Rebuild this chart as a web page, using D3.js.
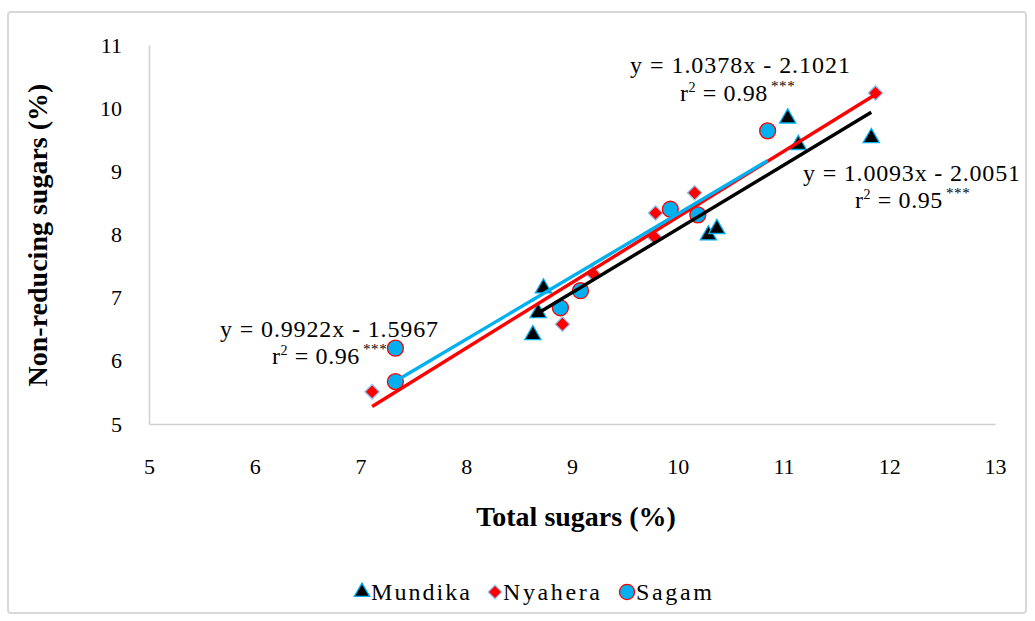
<!DOCTYPE html>
<html><head><meta charset="utf-8">
<script src="https://cdn.jsdelivr.net/npm/d3@7"></script>
<style>html,body{margin:0;padding:0;background:#fff}svg{display:block}text{font-family:"Liberation Serif","Times New Roman",serif;fill:#000}</style>
</head><body>
<script>
// ---- data ----
const seriesNames = ["Mundika", "Nyahera", "Sagam"];
const mundikaX = [8.63, 8.68, 8.73, 10.29, 10.37, 11.04, 11.14, 11.83];
const mundikaY = [6.41, 6.76, 7.15, 7.99, 8.09, 9.84, 9.42, 9.53];
const nyaheraX = [7.11, 8.91, 9.20, 9.78, 9.79, 10.16, 11.87];
const nyaheraY = [5.51, 6.58, 7.38, 7.96, 8.34, 8.66, 10.24];
const sagamX = [7.33, 7.33, 8.89, 9.08, 9.93, 10.19, 10.85];
const sagamY = [6.20, 5.67, 6.84, 7.11, 8.40, 8.31, 9.64];
const slopes = [1.0093, 1.0378, 0.9922];
const intercepts = [-2.0051, -2.1021, -1.5967];
const eqLabels = ["y = 1.0093x - 2.0051", "y = 1.0378x - 2.1021", "y = 0.9922x - 1.5967"];
const r2Labels = ["0.95", "0.98", "0.96"];
const xTicks = [5, 6, 7, 8, 9, 10, 11, 12, 13];
const yTicks = [5, 6, 7, 8, 9, 10, 11];
const xTitle = "Total sugars (%)";
const yTitle = "Non-reducing sugars (%)";

const W = 1035, H = 621;
const svg = d3.select("body").append("svg").attr("width", W).attr("height", H);

// outer border
svg.append("rect").attr("x", 8).attr("y", 12).attr("width", 1018).attr("height", 601)
  .attr("rx", 3).attr("fill", "#fff").attr("stroke", "#d9d9d9").attr("stroke-width", 2);

const x = d3.scaleLinear().domain([5, 13]).range([149, 995]);
const y = d3.scaleLinear().domain([5, 11]).range([424, 45]);

const xAxis = svg.append("g").attr("transform", `translate(0,${y(5)})`)
  .call(d3.axisBottom(x).tickValues(xTicks).tickSize(0).tickPadding(34).tickFormat(d3.format("d")));
const yAxis = svg.append("g").attr("transform", `translate(${x(5)},0)`)
  .call(d3.axisLeft(y).tickValues(yTicks).tickSize(0).tickPadding(27).tickFormat(d3.format("d")));
[xAxis, yAxis].forEach(g => {
  g.select(".domain").attr("stroke", "#d0d0d0").attr("stroke-width", 1.5);
  g.selectAll("text").attr("font-size", 22).attr("font-family", "Liberation Serif, serif").attr("fill", "#000");
});

// axis titles
svg.append("text").attr("x", 576).attr("y", 526).attr("text-anchor", "middle")
  .attr("font-size", 28).attr("font-weight", "bold").text(xTitle);
svg.append("text").attr("transform", "translate(47,235) rotate(-90)").attr("text-anchor", "middle")
  .attr("font-size", 28).attr("font-weight", "bold").text(yTitle);

// markers
const colors = { blue: "#00b0f0", red: "#ff0000", lightBlue: "#8ec8f0" };
const series = [
  { xs: mundikaX, ys: mundikaY, line: "#000000", sym: d3.symbolTriangle, size: 115, rot: 0, fill: "#000", stroke: colors.blue },
  { xs: nyaheraX, ys: nyaheraY, line: colors.red, sym: d3.symbolSquare, size: 105, rot: 45, fill: colors.red, stroke: colors.lightBlue },
  { xs: sagamX, ys: sagamY, line: colors.blue, sym: d3.symbolCircle, size: 200, rot: 0, fill: colors.blue, stroke: colors.red }
];

series.forEach((s, i) => {
  svg.append("g").selectAll("path").data(s.xs.map((v, j) => [v, s.ys[j]])).join("path")
    .attr("transform", d => `translate(${x(d[0])},${y(d[1])}) rotate(${s.rot})`)
    .attr("d", d3.symbol().type(s.sym).size(s.size)())
    .attr("fill", s.fill).attr("stroke", s.stroke).attr("stroke-width", 1.3);
});

// trend lines
series.forEach((s, i) => {
  const x0 = d3.min(s.xs), x1 = d3.max(s.xs);
  const pts = [x0, x1].map(v => [x(v), y(slopes[i] * v + intercepts[i])]);
  svg.append("path").attr("d", d3.line()(pts)).attr("stroke", s.line).attr("stroke-width", 3.4).attr("fill", "none");
});

// equation labels
const eqPos = [ [803, 181, 855, 208, 217], [630, 73, 680, 101, 220], [220, 337, 272, 364, 218] ];
eqPos.forEach((p, i) => {
  svg.append("text").attr("x", p[0]).attr("y", p[1]).attr("font-size", 24)
    .attr("textLength", p[4]).attr("lengthAdjust", "spacing").text(eqLabels[i]);
  const t = svg.append("text").attr("x", p[2]).attr("y", p[3]).attr("font-size", 24).attr("letter-spacing", 0.6);
  t.append("tspan").text("r");
  t.append("tspan").attr("font-size", 14).attr("dy", -9).text("2");
  t.append("tspan").attr("dy", 9).text(" = " + r2Labels[i]);
  t.append("tspan").attr("font-size", 15).attr("dy", -10).attr("dx", 3).text("***");
});

// legend
const legPos = [[362, 371, 99], [495, 503, 97], [627, 636, 76]];
series.forEach((s, i) => {
  const lp = legPos[i];
  svg.append("path").attr("transform", `translate(${lp[0]},592) rotate(${s.rot})`)
    .attr("d", d3.symbol().type(s.sym).size(s.size * 0.9)())
    .attr("fill", s.fill).attr("stroke", s.stroke).attr("stroke-width", 1.3);
  svg.append("text").attr("x", lp[1]).attr("y", 600).attr("font-size", 24)
    .attr("textLength", lp[2]).attr("lengthAdjust", "spacing").text(seriesNames[i]);
});
</script>
</body></html>
